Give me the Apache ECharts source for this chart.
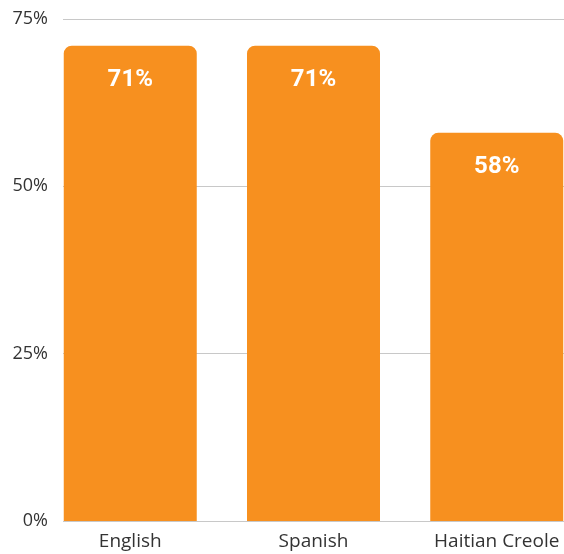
<!DOCTYPE html>
<html>
<head>
<meta charset="utf-8">
<script src="https://cdn.jsdelivr.net/npm/echarts@6/dist/echarts.min.js"></script>
<style>
  html, body { margin: 0; padding: 0; background: #fff; }
  #chart { width: 564px; height: 554px; }
</style>
</head>
<body>
<div id="chart"></div>
<script>
// Share of respondents by language
const categories = ['English', 'Spanish', 'Haitian Creole'];
const values = [71, 71, 58];
const yTicks = [0, 25, 50, 75];

const barColor = '#F7901F';
const chart = echarts.init(document.getElementById('chart'));

// Bars are placed at category indices 0..n-1 on a numeric x axis whose
// extent is padded so the outer bars sit flush with the plot edges.
const pad = 0.367;
const barData = values.map((v, i) => [i, v]);
const idx = categories.map((_, i) => i);

chart.setOption({
  animation: false,
  grid: { left: 63, right: 0, top: 19, bottom: 33 },
  xAxis: {
    type: 'value',
    min: -pad,
    max: categories.length - 1 + pad,
    splitLine: { show: false },
    axisLine: { show: false },
    axisTick: { show: false },
    axisLabel: {
      customValues: idx,
      showMinLabel: true,
      showMaxLabel: true,
      color: '#333',
      fontSize: 19,
      fontFamily: 'Open Sans',
      margin: 11,
      formatter: v => categories[Math.round(v)] || ''
    }
  },
  yAxis: {
    type: 'value',
    min: yTicks[0],
    max: yTicks[yTicks.length - 1],
    interval: yTicks[1] - yTicks[0],
    axisLine: { show: false },
    axisTick: { show: false },
    axisLabel: {
      color: '#333',
      fontSize: 18,
      fontFamily: 'Open Sans',
      margin: 15,
      formatter: v => v + '%'
    },
    splitLine: { lineStyle: { color: '#c8c8c8', width: 1 } }
  },
  series: [{
    type: 'bar',
    data: barData,
    barWidth: 133,
    itemStyle: { color: barColor, borderRadius: [8, 8, 0, 0] },
    label: {
      show: true,
      position: 'insideTop',
      distance: 22,
      color: '#fff',
      fontSize: 24,
      fontWeight: 'bold',
      fontFamily: 'Roboto',
      formatter: p => p.value[1] + '%'
    }
  }]
});
</script>
</body>
</html>
